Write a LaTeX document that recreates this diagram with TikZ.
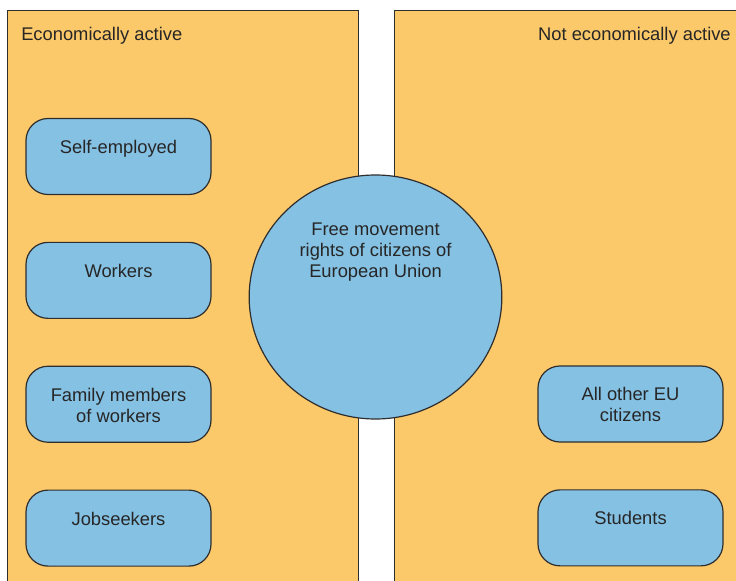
\documentclass[tikz,border=0pt]{standalone}
\usepackage{fontspec}
\setmainfont{Liberation Sans}
\usetikzlibrary{positioning,shapes.geometric}

\definecolor{panelfill}{HTML}{FCC96A}
\definecolor{groupfill}{HTML}{85C1E3}
\definecolor{edge}{HTML}{2E2E2E}

\begin{document}
\begin{tikzpicture}[
x=0.75pt, y=-0.75pt,
font=\fontsize{13.75}{15.75}\selectfont, text=black!85,
panel/.style={draw=edge, fill=panelfill, line width=0.7pt},
group/.style={
    draw=edge, fill=groupfill, line width=0.9pt,
    rounded corners=16.5pt,
    minimum width=138.75pt, minimum height=57pt,
},
rights/.style={ellipse, draw=edge, fill=groupfill, line width=0.9pt,
    minimum width=189.5pt, minimum height=183pt},
tag/.style={align=center, inner sep=0pt},
node distance=35pt,
]
\clip (0,0) rectangle (736,581);

% the two panels run off the bottom and the right edge
\draw[panel] (7,10) rectangle (358,600);
\draw[panel] (394,10) rectangle (760,600);

\node (active) [tag, anchor=north west] at (21,27) {Economically active};
\node (inactive) [tag, anchor=north east] at (731,27) {Not economically active};

% central circle
\node (rights) [rights] at (375.5,297) {};
\node (rightstxt) [tag, below=36.5pt of rights.north] {Free movement\\rights of citizens of\\European Union};

% economically active
\node (self) [group] at (118.5,156.5) {};
\node (work) [group, below=of self] {};
\node (fam) [group, below=of work] {};
\node (job) [group, below=of fam] {};

% not economically active
\node (other) [group] at (630.5,404) {};
\node (stud) [group, below=of other] {};

\node (selftxt) [tag, below=16.5pt of self.north] {Self-employed};
\node (worktxt) [tag, below=16.5pt of work.north] {Workers};
\node (famtxt) [tag, below=16.5pt of fam.north] {Family members\\of workers};
\node (jobtxt) [tag, below=16.5pt of job.north] {Jobseekers};
\node (othertxt) [tag, below=16.5pt of other.north] {All other EU\\citizens};
\node (studtxt) [tag, below=16.5pt of stud.north] {Students};

\end{tikzpicture}
\end{document}
